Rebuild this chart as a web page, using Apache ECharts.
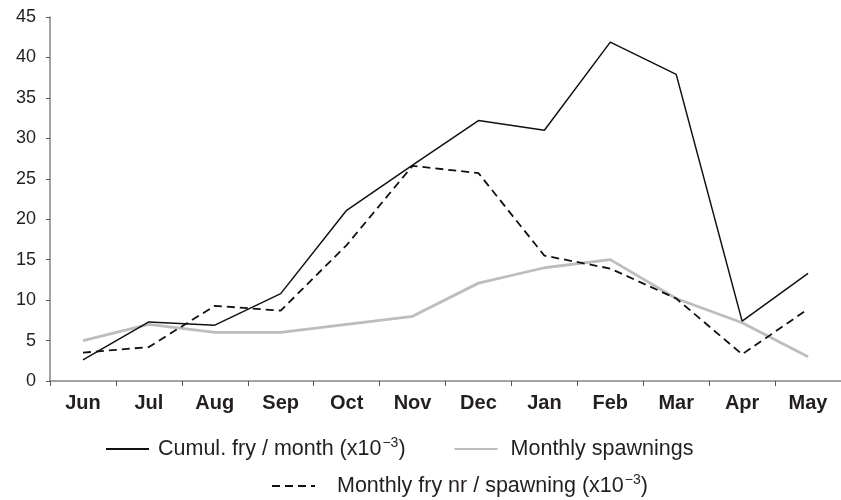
<!DOCTYPE html>
<html><head><meta charset="utf-8">
<script src="https://cdn.jsdelivr.net/npm/echarts@6/dist/echarts.min.js"></script>
<style>html,body{margin:0;padding:0;background:#fff}#c{width:841px;height:500px}</style>
</head><body><div id="c"></div>
<script>
const months = ['Jun','Jul','Aug','Sep','Oct','Nov','Dec','Jan','Feb','Mar','Apr','May'];
const cumulFry = [2.6, 7.3, 6.9, 10.8, 21.1, 26.7, 32.2, 31.0, 41.9, 37.9, 7.4, 13.3];
const spawnings = [5.0, 7.0, 6.0, 6.0, 7.0, 8.0, 12.1, 14.0, 15.0, 10.2, 7.2, 3.0];
const fryPerSpawning = [3.5, 4.2, 9.3, 8.7, 16.8, 26.6, 25.7, 15.5, 13.9, 10.2, 3.3, 8.9];
const yTicks = {min: 0, max: 45, interval: 5};
const names = ['Cumul. fry / month', 'Monthly spawnings', 'Monthly fry nr / spawning'];

const font = 'Liberation Sans, Arial, sans-serif';
const txt = '#231f20';
const FS = 21.5;
const legendRich = {
  a: {fontFamily: font, fontSize: FS, color: txt},
  p0: {fontFamily: font, fontSize: FS, color: txt, padding: [0, 0, 0, 4]},
  p1: {fontFamily: font, fontSize: FS, color: txt, padding: [0, 0, 0, 8]},
  p2: {fontFamily: font, fontSize: FS, color: txt, padding: [0, 0, 0, 17]},
  s: {fontFamily: font, fontSize: 14, color: txt, padding: [0, 0, 12, 1]}
};
function fmt(n) {
  const i = names.indexOf(n);
  if (i === 1) return '{p1|' + n + '}';
  return '{p' + i + '|' + n + ' (x10}{s|\u22123}{a|)}';
}
const legendBase = {
  itemWidth: 43, itemHeight: 14, itemGap: 48, formatter: fmt,
  textStyle: {rich: legendRich}, itemStyle: {opacity: 0}
};
const chart = echarts.init(document.getElementById('c'), null, {renderer: 'canvas'});
chart.setOption({
  animation: false,
  grid: {left: 50, top: 17, width: 796, bottom: 119, containLabel: false},
  xAxis: {
    type: 'category', data: months, boundaryGap: true,
    axisLine: {lineStyle: {color: '#858585', width: 1.5}},
    axisTick: {show: true, length: 5, lineStyle: {color: '#555'}},
    axisLabel: {fontFamily: font, fontSize: 20, fontWeight: 'bold', color: txt, margin: 12}
  },
  yAxis: {
    type: 'value', min: yTicks.min, max: yTicks.max, interval: yTicks.interval,
    splitLine: {show: false},
    axisLine: {show: true, lineStyle: {color: '#858585', width: 1.5}},
    axisTick: {show: true, length: 4, lineStyle: {color: '#555'}},
    axisLabel: {fontFamily: font, fontSize: 18, color: txt, margin: 14}
  },
  legend: [
    Object.assign({data: [names[0], names[1]], left: 100, top: 431}, legendBase),
    Object.assign({data: [names[2]], left: 266, top: 468}, legendBase)
  ],
  series: [
    {name: names[0], type: 'line', data: cumulFry, symbol: 'none',
     lineStyle: {color: '#111', width: 1.5}, itemStyle: {color: '#111'}, z: 3},
    {name: names[1], type: 'line', data: spawnings, symbol: 'none',
     lineStyle: {color: '#bdbdbd', width: 2.8}, itemStyle: {color: '#bdbdbd'}, z: 1},
    {name: names[2], type: 'line', data: fryPerSpawning, symbol: 'none',
     lineStyle: {color: '#111', width: 1.8, type: [8, 5]}, itemStyle: {color: '#111'}, z: 2}
  ]
});
</script></body></html>
